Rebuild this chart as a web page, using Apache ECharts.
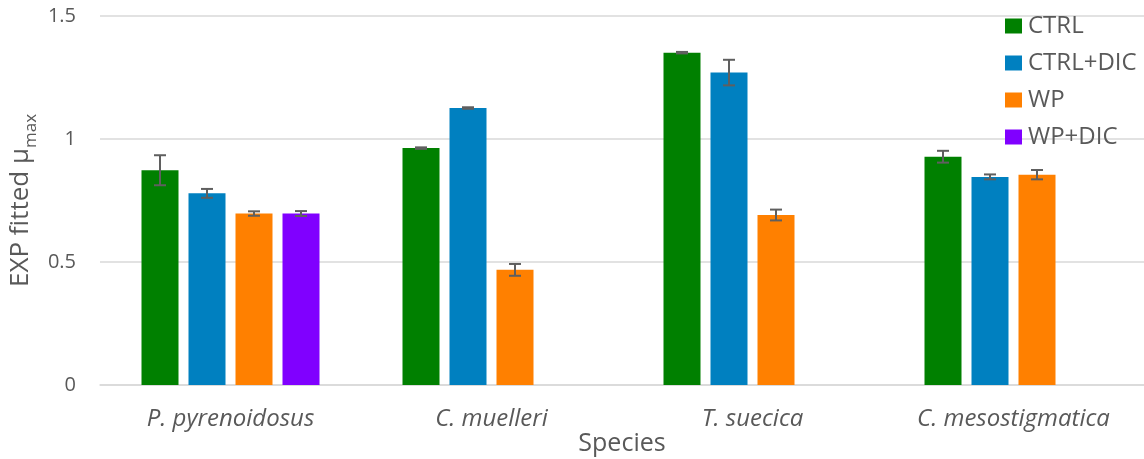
<!DOCTYPE html>
<html>
<head>
<meta charset="utf-8">
<script src="https://cdn.jsdelivr.net/npm/echarts@6/dist/echarts.min.js"></script>
<style>html,body{margin:0;padding:0;background:#fff;}#c{width:1144px;height:459px;}</style>
</head>
<body>
<div id="c"></div>
<script>
const categories = ['P. pyrenoidosus', 'C. muelleri', 'T. suecica', 'C. mesostigmatica'];
const seriesNames = ['CTRL', 'CTRL+DIC', 'WP', 'WP+DIC'];
const ctrl = [0.873, 0.963, 1.351, 0.928];
const ctrlErr = [0.061, 0.003, 0.003, 0.024];
const ctrlDic = [0.779, 1.126, 1.270, 0.846];
const ctrlDicErr = [0.018, 0.003, 0.052, 0.010];
const wp = [0.697, 0.468, 0.691, 0.855];
const wpErr = [0.009, 0.024, 0.022, 0.019];
const wpDic = [0.697, null, null, null];
const wpDicErr = [0.010, null, null, null];
const yTicks = { min: 0, max: 1.5, interval: 0.5 };

const colors = ['#008000', '#0080c0', '#ff8000', '#8000ff'];
const values = [ctrl, ctrlDic, wp, wpDic];
const errs = [ctrlErr, ctrlDicErr, wpErr, wpDicErr];
const BAR_W = 37, BAR_GAP = 10;
const FONT = '"Open Sans", "Liberation Sans", sans-serif';
const TXT = '#595959';

const series = [];
values.forEach((vals, i) => {
  series.push({
    name: seriesNames[i], type: 'bar', data: vals, barWidth: BAR_W,
    barGap: (BAR_GAP / BAR_W * 100) + '%',
    itemStyle: { color: colors[i] }, z: 2
  });
});
values.forEach((vals, i) => {
  const offset = (i - 1.5) * (BAR_W + BAR_GAP);
  const data = vals.map((v, k) => v == null ? null : [k, v, errs[i][k]]).filter(d => d);
  series.push({
    name: seriesNames[i] + ' err', type: 'custom', z: 5, silent: true,
    data: data,
    encode: { x: 0, y: 1 },
    renderItem: function (params, api) {
      const cat = api.value(0), v = api.value(1), e = api.value(2);
      const x = api.coord([cat, v])[0] + offset;
      const yT = api.coord([cat, v + e])[1];
      const yB = api.coord([cat, v - e])[1];
      const hw = 6;
      const st = { stroke: '#5f5f5f', lineWidth: 2 };
      return { type: 'group', children: [
        { type: 'line', shape: { x1: x, y1: yT, x2: x, y2: yB }, style: st },
        { type: 'line', shape: { x1: x - hw, y1: yT, x2: x + hw, y2: yT }, style: st },
        { type: 'line', shape: { x1: x - hw, y1: yB, x2: x + hw, y2: yB }, style: st }
      ]};
    }
  });
});

const chart = echarts.init(document.getElementById('c'));
chart.setOption({
  animation: false,
  backgroundColor: '#fff',
  textStyle: { fontFamily: FONT },
  grid: { left: 100, right: 0, top: 16, bottom: 74, containLabel: false, outerBoundsMode: 'none' },
  legend: {
    data: seriesNames, orient: 'vertical', left: 1000, top: 9,
    itemWidth: 17, itemHeight: 15, itemGap: 13, icon: 'rect',
    textStyle: { fontFamily: FONT, fontSize: 24, color: TXT, lineHeight: 24, padding: [0, 0, 0, 1] }
  },
  xAxis: {
    type: 'category', data: categories,
    axisTick: { show: false },
    axisLine: { lineStyle: { color: '#d9d9d9', width: 1.5 } },
    axisLabel: { fontFamily: FONT, fontStyle: 'italic', fontSize: 24, color: TXT, margin: 22 },
    name: 'Species', nameLocation: 'middle', nameGap: 46, nameMoveOverlap: false,
    nameTextStyle: { fontFamily: FONT, fontSize: 25, color: TXT }
  },
  yAxis: {
    type: 'value', min: yTicks.min, max: yTicks.max, interval: yTicks.interval,
    axisLine: { show: false }, axisTick: { show: false },
    splitLine: { lineStyle: { color: '#d9d9d9', width: 1.5 } },
    axisLabel: { fontFamily: FONT, fontSize: 20, color: TXT, margin: 24 },
    name: '{a|EXP fitted μ}{b|max}', nameLocation: 'middle', nameRotate: 90, nameGap: 66, nameMoveOverlap: false,
    nameTextStyle: {
      color: TXT,
      rich: {
        a: { fontFamily: FONT, fontSize: 26, color: TXT, lineHeight: 32, verticalAlign: 'bottom' },
        b: { fontFamily: FONT, fontSize: 17, color: TXT, lineHeight: 32, verticalAlign: 'bottom', padding: [0, 0, -6, 0] }
      }
    }
  },
  series: series
});
</script>
</body>
</html>
